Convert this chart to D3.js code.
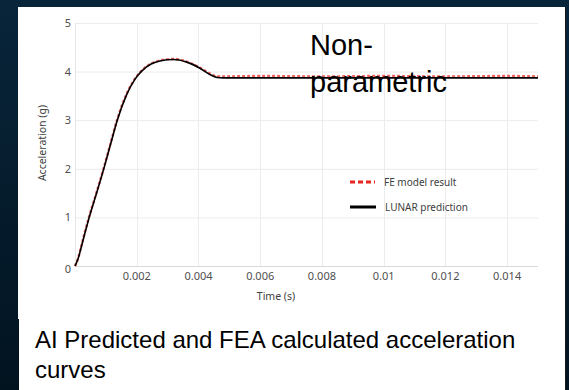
<!DOCTYPE html>
<html>
<head>
<meta charset="utf-8">
<script src="https://cdn.jsdelivr.net/npm/d3@7"></script>
<style>
  html, body { margin: 0; padding: 0; background: #031522; }
  svg { display: block; }
  .tick_label { font-family: 'Noto Sans', sans-serif; font-size: 11px; fill: #4f4f4f; }
  .axes_label { font-family: 'Noto Sans', sans-serif; font-size: 10.5px; fill: #404040; }
  .legend_label { font-family: 'Noto Sans', sans-serif; font-size: 10px; fill: #404040; }
  .big_text { font-family: 'Liberation Sans', Arial, sans-serif; fill: #000; }
</style>
</head>
<body>
<svg id="graph" width="569" height="390"></svg>
<script>
/*******************************************************************************************/
// Data

var lunarTime  = [0, 0.0001, 0.0002, 0.00033, 0.00046, 0.0007, 0.00095, 0.00115, 0.00137, 0.00167, 0.00195, 0.00216, 0.00248, 0.00275, 0.0032, 0.0036, 0.00405, 0.00437, 0.0046, 0.0048, 0.006, 0.008, 0.01, 0.012, 0.014, 0.015];
var lunarAccel = [0, 0.15, 0.38, 0.7, 1.0, 1.5, 2.04, 2.5, 3.0, 3.52, 3.85, 4.01, 4.16, 4.22, 4.25, 4.2, 4.07, 3.94, 3.88, 3.87, 3.87, 3.87, 3.87, 3.87, 3.87, 3.87];

var feTime  = [0, 0.0001, 0.0002, 0.00033, 0.00046, 0.0007, 0.00095, 0.00115, 0.00137, 0.00167, 0.00195, 0.00216, 0.00248, 0.00275, 0.0032, 0.0036, 0.00405, 0.00437, 0.0046, 0.0048, 0.006, 0.008, 0.01, 0.012, 0.014, 0.015];
var feAccel = [0, 0.16, 0.4, 0.72, 1.02, 1.52, 2.06, 2.52, 3.02, 3.54, 3.86, 4.02, 4.17, 4.23, 4.26, 4.21, 4.08, 3.96, 3.9, 3.9, 3.91, 3.9, 3.91, 3.9, 3.91, 3.9];

var xTicks = [0.002, 0.004, 0.006, 0.008, 0.01, 0.012, 0.014];
var xTickLabels = ['0.002', '0.004', '0.006', '0.008', '0.01', '0.012', '0.014'];
var yTicks = [0, 1, 2, 3, 4, 5];

var seriesNames = ['FE model result', 'LUNAR prediction'];
var seriesColors = ['#e8251f', '#000000'];

/*************************************************/

var graph = d3.select('#graph');

// background
var bg = graph.append('defs').append('linearGradient').attr('id', 'bg_grad')
  .attr('x1', 0).attr('y1', 0).attr('x2', 0).attr('y2', 1);
bg.append('stop').attr('offset', '0%').attr('stop-color', '#08253a');
bg.append('stop').attr('offset', '100%').attr('stop-color', '#021320');
graph.append('rect').attr('width', 569).attr('height', 390).style('fill', 'url(#bg_grad)');

// white panels (chart image + caption box)
graph.append('rect').attr('x', 18).attr('y', 7).attr('width', 547).attr('height', 312).style('fill', '#fff');
graph.append('rect').attr('x', 19).attr('y', 318).attr('width', 546).attr('height', 72).style('fill', '#fff');
graph.append('line').attr('x1', 565.5).attr('x2', 565.5).attr('y1', 7).attr('y2', 390).style('stroke', '#1a1a1a');

var xScale = d3.scaleLinear().domain([0, 0.015]).range([75, 538]);
var yScale = d3.scaleLinear().domain([0, 5]).range([266, 23]);

var plot = graph.append('g').attr('id', 'plot');

// gridlines
plot.selectAll('.hgrid').data(yTicks).enter().append('line').attr('class', 'hgrid')
  .attr('x1', xScale(0)).attr('x2', xScale(0.015))
  .attr('y1', function(d){ return yScale(d) + 0.5 }).attr('y2', function(d){ return yScale(d) + 0.5 })
  .style('stroke', function(d){ return d == 0 ? '#d9d9d9' : '#ececec' }).style('stroke-width', 1);

plot.selectAll('.vgrid').data(xTicks).enter().append('line').attr('class', 'vgrid')
  .attr('x1', function(d){ return Math.round(xScale(d)) + 0.5 }).attr('x2', function(d){ return Math.round(xScale(d)) + 0.5 })
  .attr('y1', yScale(5)).attr('y2', yScale(0))
  .style('stroke', '#ececec').style('stroke-width', 1);

plot.append('line').attr('x1', xScale(0) + 0.5).attr('x2', xScale(0) + 0.5).attr('y1', yScale(5)).attr('y2', yScale(0))
  .style('stroke', '#e6e6e6');

// tick labels
plot.selectAll('.ylab').data(yTicks).enter().append('text').attr('class', 'tick_label')
  .attr('x', 71).attr('y', function(d){ return yScale(d) + 4 + (d == 0 ? 3 : 0) })
  .style('text-anchor', 'end').text(function(d){ return d });

plot.selectAll('.xlab').data(xTicks).enter().append('text').attr('class', 'tick_label')
  .attr('x', function(d){ return xScale(d) }).attr('y', 280)
  .style('text-anchor', 'middle').text(function(d, i){ return xTickLabels[i] });

// axis titles
plot.append('text').attr('class', 'axes_label').attr('transform', 'translate(' +46+ ',' +143+ ') rotate(-90)')
  .style('text-anchor', 'middle').text('Acceleration (g)');
plot.append('text').attr('class', 'axes_label').attr('x', 276).attr('y', 300)
  .style('text-anchor', 'middle').text('Time (s)');

// curves
var lineGen = d3.line().curve(d3.curveMonotoneX)
  .x(function(d){ return xScale(d[0]) }).y(function(d){ return yScale(d[1]) });

var feData = feTime.map(function(t, i){ return [t, feAccel[i]] });
var lunarData = lunarTime.map(function(t, i){ return [t, lunarAccel[i]] });

plot.append('path').attr('d', lineGen(feData))
  .style('fill', 'none').style('stroke', seriesColors[0]).style('stroke-width', 2.4).style('stroke-dasharray', '3,2').style('opacity', 0.7);
plot.append('path').attr('d', lineGen(lunarData))
  .style('fill', 'none').style('stroke', seriesColors[1]).style('stroke-width', 1.6);

// legend
var legend = plot.append('g').attr('id', 'legend');
legend.append('line').attr('x1', 350).attr('x2', 375).attr('y1', 182).attr('y2', 182)
  .style('stroke', seriesColors[0]).style('stroke-width', 3).style('stroke-dasharray', '5,3');
legend.append('text').attr('class', 'legend_label').attr('x', 384).attr('y', 185.5).text(seriesNames[0]);
legend.append('line').attr('x1', 350).attr('x2', 376).attr('y1', 207).attr('y2', 207)
  .style('stroke', seriesColors[1]).style('stroke-width', 3);
legend.append('text').attr('class', 'legend_label').attr('x', 385).attr('y', 210.5).text(seriesNames[1]);

// overlay annotation
graph.append('text').attr('class', 'big_text').attr('x', 310).attr('y', 55).style('font-size', '29px').text('Non-');
graph.append('text').attr('class', 'big_text').attr('x', 310).attr('y', 92).style('font-size', '29px').text('parametric');

// caption
graph.append('text').attr('class', 'big_text').attr('x', 35).attr('y', 348).style('font-size', '24px')
  .text('AI Predicted and FEA calculated acceleration');
graph.append('text').attr('class', 'big_text').attr('x', 35).attr('y', 378).style('font-size', '24px').text('curves');
</script>
</body>
</html>
